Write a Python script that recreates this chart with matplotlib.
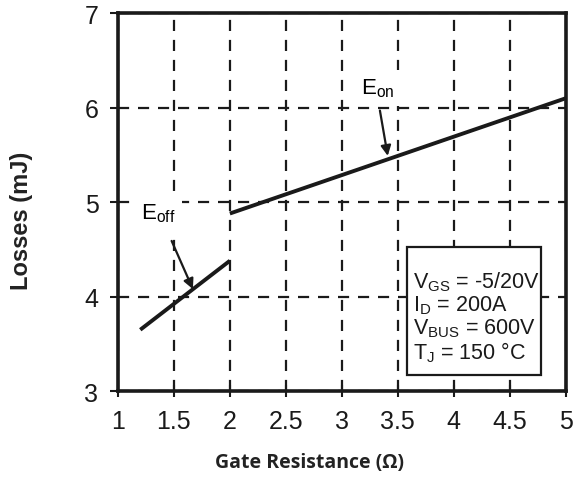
import matplotlib.pyplot as plt
from matplotlib.patches import Rectangle

# Switching losses vs. gate resistance
eon_r = [2.0, 5.0]
eon_mj = [4.88, 6.10]
eoff_r = [1.2, 2.0]
eoff_mj = [3.65, 4.38]

x_ticks = [1, 1.5, 2, 2.5, 3, 3.5, 4, 4.5, 5]
x_labels = ["1", "1.5", "2", "2.5", "3", "3.5", "4", "4.5", "5"]
y_ticks = [3, 4, 5, 6, 7]

conditions = ("V$_{\\mathregular{GS}}$ = -5/20V\n"
              "I$_{\\mathregular{D}}$ = 200A\n"
              "V$_{\\mathregular{BUS}}$ = 600V\n"
              "T$_{\\mathregular{J}}$ = 150 °C")

ink = '#1a1a1a'
plt.rcParams['font.family'] = ['Liberation Sans', 'DejaVu Sans']
plt.rcParams['mathtext.fontset'] = 'custom'
plt.rcParams['mathtext.rm'] = 'Liberation Sans'

fig = plt.figure(figsize=(5.75, 4.89), dpi=100)
ax = fig.add_axes([0.205, 0.198, 0.779, 0.773])

ax.plot(eon_r, eon_mj, color=ink, lw=2.8, solid_capstyle='butt', zorder=3)
ax.plot(eoff_r, eoff_mj, color=ink, lw=2.8, solid_capstyle='butt', zorder=3)

ax.set_xlim(1, 5)
ax.set_ylim(3, 7)
ax.set_xticks(x_ticks)
ax.set_xticklabels(x_labels)
ax.set_yticks(y_ticks)
ax.grid(True, color=ink, ls=(0, (5, 4)), lw=1.6)
ax.set_axisbelow(True)

for s in ax.spines.values():
    s.set_linewidth(2.6)
    s.set_color(ink)
ax.tick_params(axis='x', direction='inout', length=9, width=1.5,
               labelsize=18, pad=8, colors=ink)
ax.tick_params(axis='y', direction='out', length=6, width=1.5,
               labelsize=18, pad=8, colors=ink)

ax.set_xlabel("Gate Resistance (Ω)", family='Open Sans', fontweight='bold',
              fontsize=14, color='#222222')
ax.xaxis.set_label_coords(0.4286, -0.162)
ax.set_ylabel("Losses (mJ)", fontweight='bold', fontsize=17, color='#222222')
ax.yaxis.set_label_coords(-0.19, 0.452)

# curve labels with white backing over the grid, arrows pointing to curves
bbox = dict(boxstyle='square,pad=0.3', fc='white', ec='none')
ax.text(3.32, 6.21, "E$_{\\mathregular{on}}$", fontsize=16, ha='center',
        va='center', bbox=bbox, zorder=4)
ax.text(1.36, 4.89, "E$_{\\mathregular{off}}$", fontsize=16, ha='center',
        va='center', bbox=bbox, zorder=4)
arrow = dict(arrowstyle='-|>', color=ink, lw=1.6, mutation_scale=15,
             shrinkA=0, shrinkB=0)
ax.annotate("", xy=(3.41, 5.49), xytext=(3.34, 5.97), arrowprops=arrow,
            zorder=5)
ax.annotate("", xy=(1.67, 4.08), xytext=(1.48, 4.59), arrowprops=arrow,
            zorder=5)

# test conditions box
ax.add_patch(Rectangle((3.58, 3.17), 1.197, 1.36, fc='white', ec=ink,
                       lw=1.6, zorder=4))
ax.text(3.635, 3.79, conditions, fontsize=15.5, ha='left', va='center',
        linespacing=1.03, zorder=5, color=ink)

fig.savefig("out.png", dpi=100)
